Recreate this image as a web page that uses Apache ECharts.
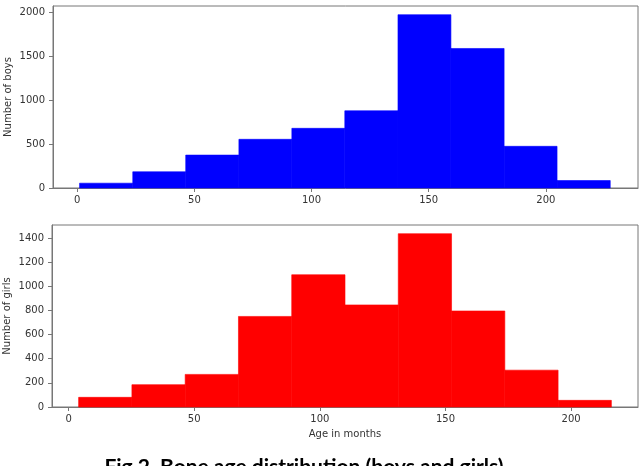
<!DOCTYPE html>
<html>
<head>
<meta charset="utf-8">
<script src="https://cdn.jsdelivr.net/npm/echarts@6/dist/echarts.min.js"></script>
<style>html,body{margin:0;padding:0;background:#fff;}#c{width:640px;height:466px;}</style>
</head>
<body>
<div id="c"></div>
<script>
// Boys histogram: bin edges (months) and counts
const boysEdges = [1, 23.7, 46.3, 69.0, 91.6, 114.2, 136.9, 159.5, 182.2, 204.8, 227.5];
const boysCounts = [55, 185, 375, 555, 680, 880, 1975, 1590, 475, 85];
// Girls histogram: bin edges (months) and counts
const girlsEdges = [4, 25.2, 46.4, 67.6, 88.8, 110.0, 131.2, 152.4, 173.6, 194.8, 216];
const girlsCounts = [80, 185, 270, 750, 1095, 845, 1435, 795, 305, 55];
// Tick labels
const boysXTicks = [0, 50, 100, 150, 200];
const boysYTicks = [0, 500, 1000, 1500, 2000];
const girlsXTicks = [0, 50, 100, 150, 200];
const girlsYTicks = [0, 200, 400, 600, 800, 1000, 1200, 1400];

const toBins = (edges, counts) => counts.map((c, i) => [edges[i], edges[i + 1], c]);

const textColor = '#333';
const frameColor = '#777';
const font = 'DejaVu Sans';

function makeRender(color) {
  return function (params, api) {
    const p0 = api.coord([api.value(0), 0]);
    const p1 = api.coord([api.value(1), api.value(2)]);
    return {
      type: 'rect',
      shape: { x: p0[0], y: p1[1], width: p1[0] - p0[0], height: p0[1] - p1[1] },
      style: { fill: color, stroke: color, lineWidth: 0.6 }
    };
  };
}

const plain = v => String(v);

function xAxis(idx, min, max, ticks, name) {
  return {
    type: 'value', gridIndex: idx, min: min, max: max,
    name: name || '', nameLocation: 'middle', nameGap: 22, nameMoveOverlap: false,
    nameTextStyle: { color: textColor, fontFamily: font, fontSize: 10 },
    axisLine: { show: true, onZero: false, lineStyle: { color: frameColor } },
    axisTick: { show: true, customValues: ticks, length: 4, lineStyle: { color: frameColor } },
    axisLabel: { customValues: ticks, formatter: plain, color: textColor, fontFamily: font, fontSize: 10, margin: 7 },
    splitLine: { show: false }
  };
}
function yAxis(idx, max, ticks, name) {
  return {
    type: 'value', gridIndex: idx, min: 0, max: max,
    name: name, nameLocation: 'middle', nameGap: 40, nameMoveOverlap: false,
    nameTextStyle: { color: textColor, fontFamily: font, fontSize: 10 },
    axisLine: { show: true, onZero: false, lineStyle: { color: frameColor } },
    axisTick: { show: true, customValues: ticks, length: 4, lineStyle: { color: frameColor } },
    axisLabel: { customValues: ticks, formatter: plain, color: textColor, fontFamily: font, fontSize: 10, margin: 8 },
    splitLine: { show: false }
  };
}

const chart = echarts.init(document.getElementById('c'), null, { renderer: 'canvas' });
chart.setOption({
  animation: false,
  backgroundColor: '#fff',
  grid: [
    { left: 53, right: 2, top: 6, height: 182, containLabel: false, outerBoundsMode: 'none', show: true, borderColor: frameColor, borderWidth: 1, backgroundColor: 'transparent' },
    { left: 52, right: 2, top: 225, height: 182, containLabel: false, outerBoundsMode: 'none', show: true, borderColor: frameColor, borderWidth: 1, backgroundColor: 'transparent' }
  ],
  xAxis: [
    xAxis(0, -10.35, 239.35, boysXTicks),
    xAxis(1, -6.6, 226.6, girlsXTicks, 'Age in months')
  ],
  yAxis: [
    yAxis(0, 2074, boysYTicks, 'Number of boys'),
    yAxis(1, 1507, girlsYTicks, 'Number of girls')
  ],
  series: [
    { type: 'custom', xAxisIndex: 0, yAxisIndex: 0, renderItem: makeRender('#0000ff'), data: toBins(boysEdges, boysCounts), encode: { x: [0, 1], y: 2 } },
    { type: 'custom', xAxisIndex: 1, yAxisIndex: 1, renderItem: makeRender('#ff0000'), data: toBins(girlsEdges, girlsCounts), encode: { x: [0, 1], y: 2 } }
  ],
  graphic: [
    { type: 'text', x: 304, y: 457, style: { text: 'Fig.2. Bone age distribution (boys and girls)', fill: '#000', font: 'bold 21px Lato', textAlign: 'center', textVerticalAlign: 'top' } }
  ]
});
</script>
</body>
</html>
